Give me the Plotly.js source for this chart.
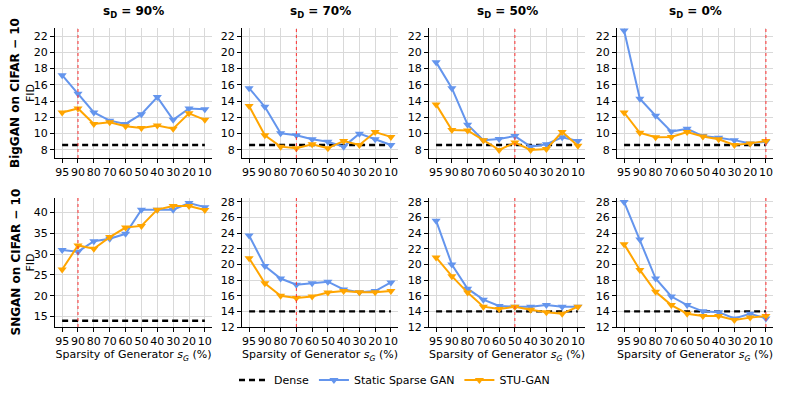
<!DOCTYPE html>
<html>
<head>
<meta charset="utf-8">
<script src="https://cdn.plot.ly/plotly-3.0.1.min.js"></script>
<style>body{margin:0;background:#fff}</style>
</head>
<body>
<div id="chart" style="width:789px;height:395px"></div>
<script>
// sparsity of the generator, left to right
var sparsity = ['95', '90', '80', '70', '60', '50', '40', '30', '20', '10'];
var discSparsity = ['90', '70', '50', '0'];
var redLineAt = ['90', '70', '50', '10'];

// BigGAN on CIFAR-10
var bigStatic90 = [17.2, 14.9, 12.6, 11.6, 11.2, 12.4, 14.5, 11.7, 13.1, 13.0];
var bigStu90 = [12.6, 13.1, 11.2, 11.4, 10.9, 10.7, 11.0, 10.6, 12.5, 11.7];
var bigStatic70 = [15.6, 13.3, 10.05, 9.8, 9.3, 9.0, 8.4, 10.0, 9.3, 8.6];
var bigStu70 = [13.4, 9.8, 8.4, 8.2, 8.7, 8.2, 9.1, 8.6, 10.2, 9.6];
var bigStatic50 = [18.8, 15.6, 11.1, 9.2, 9.35, 9.7, 8.4, 8.7, 9.55, 9.1];
var bigStu50 = [13.6, 10.45, 10.4, 9.2, 8.0, 8.9, 8.0, 8.1, 10.2, 8.5];
var bigStatic0 = [22.7, 14.3, 12.2, 10.25, 10.6, 9.7, 9.5, 9.2, 8.8, 9.0];
var bigStu0 = [12.6, 10.1, 9.55, 9.6, 10.2, 9.65, 9.3, 8.6, 8.8, 9.1];
var bigDense = 8.6;

// SNGAN on CIFAR-10
var snStatic90 = [31.0, 30.6, 33.1, 33.7, 34.9, 40.7, 40.7, 40.7, 42.3, 41.3];
var snStu90 = [26.3, 32.1, 31.3, 34.1, 36.4, 36.8, 40.7, 41.6, 41.6, 40.6];
var snStatic70 = [23.7, 19.8, 18.2, 17.4, 17.6, 17.8, 16.8, 16.45, 16.6, 17.7];
var snStu70 = [20.8, 17.6, 16.0, 15.7, 15.9, 16.4, 16.6, 16.45, 16.45, 16.6];
var snStatic50 = [25.6, 20.0, 16.9, 15.5, 14.7, 14.6, 14.6, 14.8, 14.6, 14.6];
var snStu50 = [20.9, 18.5, 16.4, 14.6, 14.3, 14.6, 14.2, 13.9, 13.7, 14.6];
var snStatic0 = [28.0, 23.2, 18.2, 15.9, 14.8, 14.0, 13.9, 13.1, 13.7, 13.1];
var snStu0 = [22.6, 19.3, 16.5, 14.8, 13.7, 13.4, 13.4, 12.9, 13.2, 13.4];
var snDense = 14.0;

var rows = [
  {label: 'BigGAN on CIFAR − 10', dense: bigDense,
   statics: [bigStatic90, bigStatic70, bigStatic50, bigStatic0],
   stus: [bigStu90, bigStu70, bigStu50, bigStu0]},
  {label: 'SNGAN on CIFAR − 10', dense: snDense,
   statics: [snStatic90, snStatic70, snStatic50, snStatic0],
   stus: [snStu90, snStu70, snStu50, snStu0]}
];

var W = 789, H = 395;
var colPx = [[55, 212], [242, 398], [429, 585], [617, 773]];
var rowPx = [[28, 158], [198, 327]];
var yRanges = [[[7, 23], [7, 23], [7, 23], [7, 23]],
               [[12.5, 43.5], [12, 28.5], [12, 28.5], [12, 28.5]]];
var yTicks = [[2, 2, 2, 2], [5, 2, 2, 2]];

var blue = '#6495ED', orange = '#FFA500';
var font = 'DejaVu Sans, sans-serif';

var data = [];
var layout = {
  width: W, height: H,
  margin: {l: 0, r: 0, t: 0, b: 0},
  paper_bgcolor: '#fff', plot_bgcolor: '#fff',
  font: {family: font, size: 11, color: '#000'},
  showlegend: true,
  legend: {orientation: 'h', x: 0.5, xanchor: 'center', y: 1 - 380 / H, yanchor: 'middle',
           font: {size: 11}, tracegroupgap: 0},
  shapes: [], annotations: []
};

var n = 0;
rows.forEach(function (row, r) {
  for (var c = 0; c < 4; c++) {
    n++;
    var xa = 'x' + (n === 1 ? '' : n), ya = 'y' + (n === 1 ? '' : n);
    var first = (n === 1);
    data.push({x: sparsity, y: sparsity.map(function () { return row.dense; }),
      xaxis: xa, yaxis: ya, mode: 'lines', name: 'Dense', legendgroup: 'd', showlegend: first,
      line: {color: '#000', width: 2.3, dash: '6px,4px'}});
    data.push({x: sparsity, y: row.statics[c], xaxis: xa, yaxis: ya, mode: 'lines+markers',
      name: 'Static Sparse GAN', legendgroup: 's', showlegend: first,
      line: {color: blue, width: 2}, marker: {symbol: 'triangle-down', size: 8, color: blue}});
    data.push({x: sparsity, y: row.stus[c], xaxis: xa, yaxis: ya, mode: 'lines+markers',
      name: 'STU-GAN', legendgroup: 'u', showlegend: first,
      line: {color: orange, width: 2}, marker: {symbol: 'triangle-down', size: 8, color: orange}});

    var xk = 'xaxis' + (n === 1 ? '' : n), yk = 'yaxis' + (n === 1 ? '' : n);
    layout[xk] = {
      domain: [colPx[c][0] / W, colPx[c][1] / W], anchor: ya,
      type: 'category', range: [-0.45, 9.45], categoryorder: 'array', categoryarray: sparsity,
      showline: true, linecolor: '#000', linewidth: 1, mirror: false,
      ticks: 'outside', ticklen: 4, tickcolor: '#000', tickangle: 0,
      showgrid: true, gridcolor: '#d9d9d9', gridwidth: 1, zeroline: false,
      tickfont: {size: 11}, automargin: false, fixedrange: true
    };
    if (r === 1) {
      layout[xk].title = {text: 'Sparsity of Generator <i>s<sub>G</sub></i> (%)', font: {size: 11}, standoff: 0};
    }
    layout[yk] = {
      domain: [1 - rowPx[r][1] / H, 1 - rowPx[r][0] / H], anchor: xa,
      range: yRanges[r][c], dtick: yTicks[r][c], tick0: 0,
      showline: true, linecolor: '#000', linewidth: 1,
      ticks: 'outside', ticklen: 4, tickcolor: '#000',
      showgrid: true, gridcolor: '#d9d9d9', gridwidth: 1, zeroline: false,
      tickfont: {size: 11}, automargin: false, fixedrange: true
    };

    layout.shapes.push({type: 'line', xref: xa, yref: ya + ' domain',
      x0: sparsity.indexOf(redLineAt[c]), x1: sparsity.indexOf(redLineAt[c]), y0: 0, y1: 1,
      line: {color: '#ff3030', width: 1, dash: 'dot'}});

    if (r === 0) {
      layout.annotations.push({text: '<b>s<sub>D</sub> = ' + discSparsity[c] + '%</b>',
        xref: 'paper', yref: 'paper', x: (colPx[c][0] + colPx[c][1]) / 2 / W, y: 1 - 22 / H,
        xanchor: 'center', yanchor: 'bottom', showarrow: false, font: {size: 12}});
    }
  }
  var mid = 1 - (rowPx[r][0] + rowPx[r][1]) / 2 / H;
  layout.annotations.push({text: '<b>' + row.label + '</b>', xref: 'paper', yref: 'paper',
    x: 15 / W, y: mid, textangle: -90, showarrow: false, font: {size: 12},
    xanchor: 'center', yanchor: 'middle'});
  layout.annotations.push({text: 'FID', xref: 'paper', yref: 'paper',
    x: 30 / W, y: mid, textangle: -90, showarrow: false, font: {size: 11},
    xanchor: 'center', yanchor: 'middle'});
});

Plotly.newPlot('chart', data, layout, {displayModeBar: false, staticPlot: true});
</script>
</body>
</html>
